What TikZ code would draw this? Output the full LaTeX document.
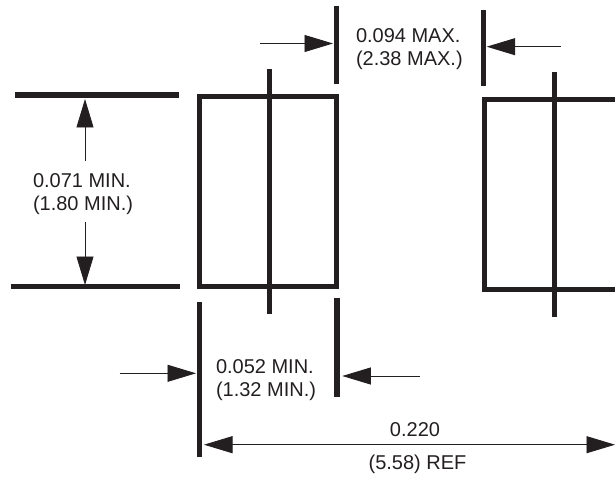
\documentclass[tikz,border=0pt]{standalone}
\usepackage{fontspec}
\setmainfont{Liberation Sans}
\usetikzlibrary{arrows.meta}
\definecolor{ink}{HTML}{231F20}
\tikzset{
  x=1pt,y=-1pt,
  thick line/.style={draw=ink,line width=5.2pt},
  dim line/.style={draw=ink,line width=0.9pt,-{Triangle[length=28.5pt,width=17pt,color=ink]}},
  label/.style={text=ink,font=\fontsize{20}{23}\selectfont,align=left,inner sep=0pt,outer sep=0pt}
}
\begin{document}
\begin{tikzpicture}
\useasboundingbox (0,0) rectangle (615,478);
\clip (0,0) rectangle (615,478);
% extension lines
\coordinate (t1) at (15,95);       \coordinate (t2) at (178.5,95);
\coordinate (b1) at (10.5,286.7);  \coordinate (b2) at (180,286.7);
\coordinate (m1) at (336.7,6);     \coordinate (m2) at (336.7,84.5);
\coordinate (n1) at (483.7,10);    \coordinate (n2) at (483.7,86);
\coordinate (p1) at (199.3,302.3); \coordinate (p2) at (199.3,457.3);
\coordinate (q1) at (337,298.3);   \coordinate (q2) at (337,397.3);
\draw[thick line] (t1) -- (t2);
\draw[thick line] (b1) -- (b2);
\draw[thick line] (m1) -- (m2);
\draw[thick line] (n1) -- (n2);
\draw[thick line] (p1) -- (p2);
\draw[thick line] (q1) -- (q2);
% left package
\coordinate (r1a) at (199.7,96.7); \coordinate (r1b) at (336.3,96.7);
\coordinate (r1c) at (336.3,286.7); \coordinate (r1d) at (199.7,286.7);
\draw[thick line,line join=miter] (r1a) -- (r1b) -- (r1c) -- (r1d) -- cycle;
\coordinate (l1a) at (269.3,69.5); \coordinate (l1b) at (269.3,314);
\draw[thick line] (l1a) -- (l1b);
% right package
\coordinate (r2a) at (620,99.3); \coordinate (r2b) at (484.3,99.3);
\coordinate (r2c) at (484.3,289.3); \coordinate (r2d) at (620,289.3);
\draw[thick line,line join=miter] (r2a) -- (r2b) -- (r2c) -- (r2d);
\coordinate (l2a) at (554.7,72); \coordinate (l2b) at (554.7,317);
\draw[thick line] (l2a) -- (l2b);
% labels
\node[label,anchor=west] (h) at (33,194) {0.071 MIN.\\(1.80 MIN.)};
\node[label,anchor=west] (w) at (356,49) {0.094 MAX.\\(2.38 MAX.)};
\node[label,anchor=west] (s) at (216,380) {0.052 MIN.\\(1.32 MIN.)};
\node[label,anchor=base] (f) at (415,436) {0.220};
\node[label,anchor=base] (g) at (417.5,469) {(5.58) REF};
% dimension arrows
\coordinate (a1) at (85,161);    \coordinate (a1t) at (85,99);
\coordinate (a2) at (85,222);    \coordinate (a2t) at (85,285);
\coordinate (a3) at (260,43.5);  \coordinate (a3t) at (333,43.5);
\coordinate (a4) at (560.7,46.7);\coordinate (a4t) at (486.7,46.7);
\coordinate (a5) at (119.7,373.3);\coordinate (a5t) at (196,373.3);
\coordinate (a6) at (420,376);   \coordinate (a6t) at (342.3,376);
\coordinate (a7) at (204,444.7); \coordinate (a7t) at (615,444.7);
\draw[dim line] (a1) -- (a1t);
\draw[dim line] (a2) -- (a2t);
\draw[dim line] (a3) -- (a3t);
\draw[dim line] (a4) -- (a4t);
\draw[dim line] (a5) -- (a5t);
\draw[dim line] (a6) -- (a6t);
\draw[dim line,{Triangle[length=28.5pt,width=17pt,color=ink]}-{Triangle[length=28.5pt,width=17pt,color=ink]}] (a7) -- (a7t);
\end{tikzpicture}
\end{document}
